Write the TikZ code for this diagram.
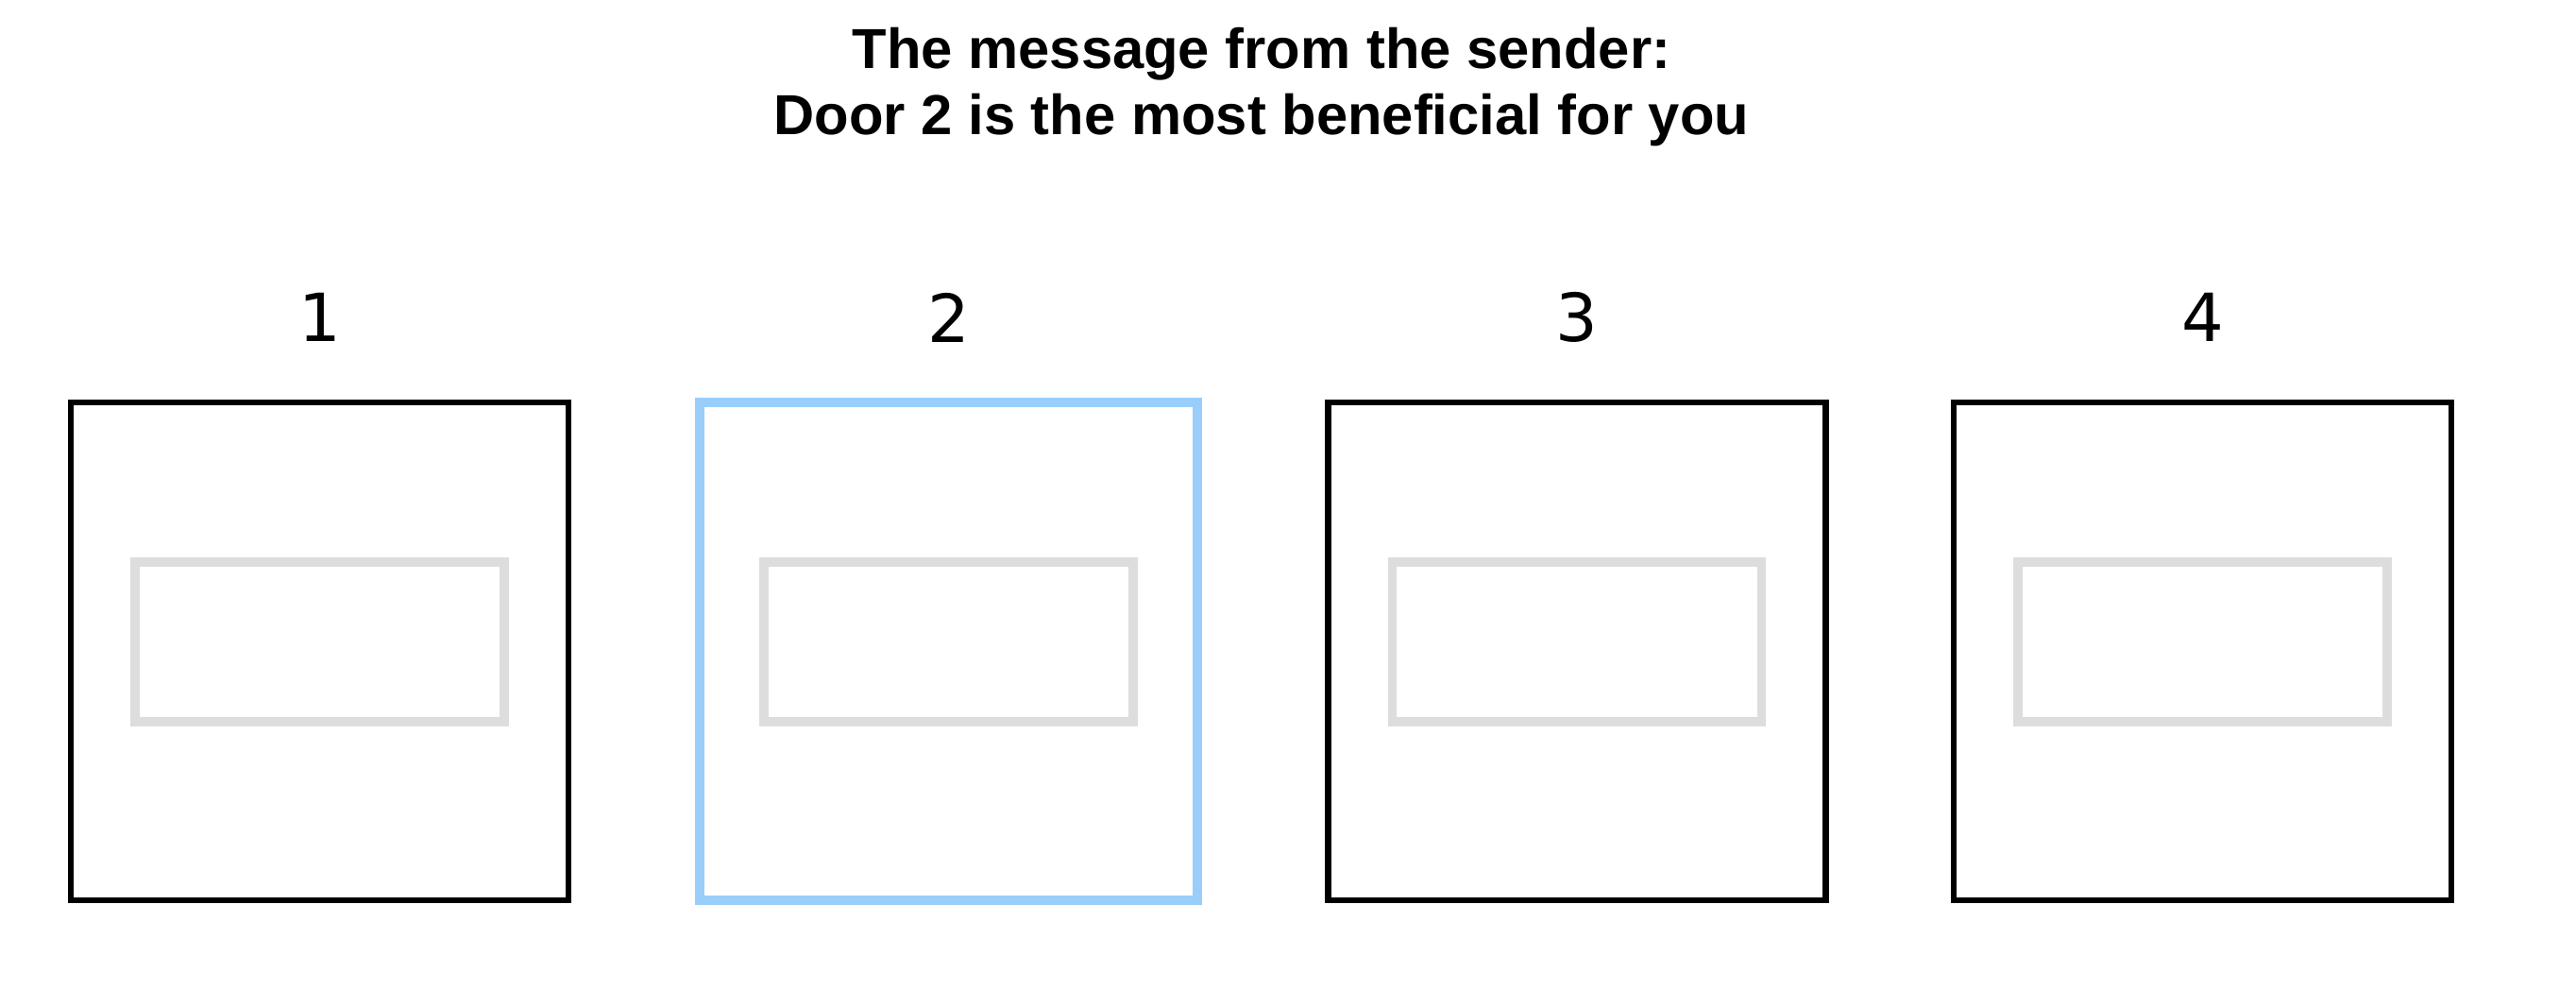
\documentclass[tikz,border=0pt]{standalone}
\usepackage{fontspec}
\setmainfont{Liberation Sans}
\newfontfamily\labelfont{DejaVu Sans}
\usepackage{tikz}
\usepackage{xcolor}
\usetikzlibrary{positioning}

\definecolor{pickblue}{RGB}{153,206,250}
\definecolor{slotgray}{RGB}{221,221,221}

\begin{document}
\begin{tikzpicture}[
  door/.style={draw=black, line width=1.8pt, minimum width=5.27cm, minimum height=5.27cm, inner sep=0pt},
  slot/.style={draw=slotgray, line width=2.8pt, minimum width=3.91cm, minimum height=1.69cm, inner sep=0pt},
  picked/.style={draw=pickblue, line width=2.8pt},
  doornum/.style={font=\labelfont\fontsize{20}{22}\selectfont, inner sep=0pt}
]
\useasboundingbox (0,0) rectangle (27.28,10.66);
\node [font=\bfseries\fontsize{17}{20}\selectfont, align=center] (msg) at (13.36,9.74)
  {The message from the sender:\\Door 2 is the most beneficial for you};
\node [door] (door1) at (3.385,3.765) {};
\node [door,picked] (door2) at (10.045,3.765) {};
\node [door] (door3) at (16.70,3.765) {};
\node [door] (door4) at (23.325,3.765) {};
\node [slot] (slot1) at (3.385,3.865) {};
\node [slot] (slot2) at (10.045,3.865) {};
\node [slot] (slot3) at (16.70,3.865) {};
\node [slot] (slot4) at (23.325,3.865) {};
\node [doornum] (num1) at (3.385,7.30) {1};
\node [doornum] (num2) at (10.045,7.30) {2};
\node [doornum] (num3) at (16.70,7.30) {3};
\node [doornum] (num4) at (23.325,7.30) {4};
\end{tikzpicture}
\end{document}
